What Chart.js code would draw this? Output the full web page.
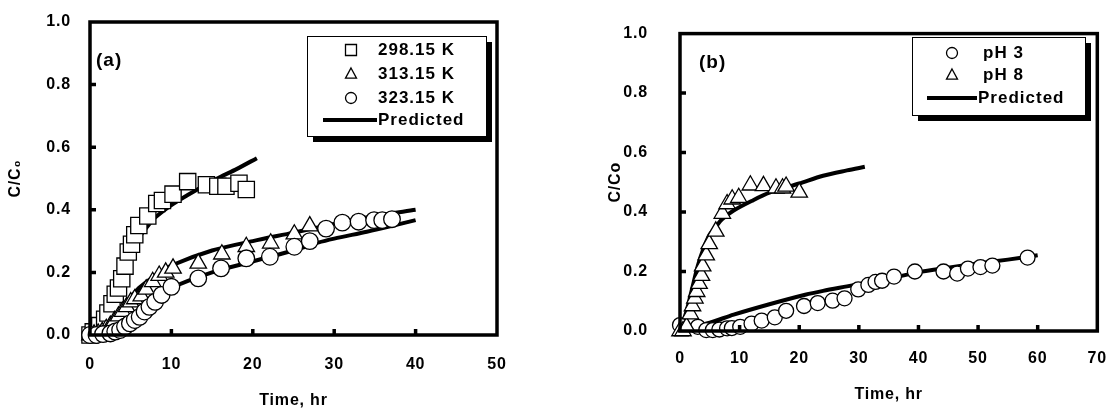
<!DOCTYPE html>
<html>
<head>
<meta charset="utf-8">
<script src="https://cdn.jsdelivr.net/npm/chart.js@4.4.0/dist/chart.umd.min.js"></script>
<style>
  html, body { margin: 0; padding: 0; background: #fff; }
  #wrap { position: relative; width: 1117px; height: 410px; }
  canvas { position: absolute; top: 0; }
  #chartA { left: 0; }
  #chartB { left: 560px; }
</style>
</head>
<body>
<div id="wrap">
  <canvas id="chartA" width="560" height="410"></canvas>
  <canvas id="chartB" width="557" height="410"></canvas>
</div>
<script>
// ---- panel (a): temperature ----
const tempLabels = ["298.15 K", "313.15 K", "323.15 K"];

const t298 = [0, 0.4, 1.2, 1.8, 2.2, 2.7, 3.1, 3.5, 3.9, 4.3, 4.7, 5.1, 5.5, 6.0, 7.1, 8.2, 8.9, 10.2, 12.0, 14.3, 15.7, 16.7, 18.3, 19.2];
const c298 = [0, 0.01, 0.03, 0.05, 0.07, 0.10, 0.13, 0.15, 0.18, 0.22, 0.265, 0.29, 0.32, 0.35, 0.38, 0.42, 0.43, 0.45, 0.49, 0.48, 0.475, 0.475, 0.485, 0.465];

const t313 = [0, 0.5, 1, 1.5, 2, 2.5, 3, 3.5, 4, 4.5, 5, 5.5, 6.3, 6.9, 7.7, 8.5, 9.3, 10.2, 13.3, 16.2, 19.2, 22.2, 25.1, 27.0];
const c313 = [0, 0.002, 0.005, 0.01, 0.02, 0.03, 0.045, 0.06, 0.075, 0.09, 0.105, 0.115, 0.124, 0.146, 0.17, 0.19, 0.2, 0.213, 0.229, 0.258, 0.282, 0.293, 0.322, 0.348];

const t323 = [0, 0.8, 1.6, 2.5, 3.1, 3.7, 4.3, 4.9, 5.5, 6.1, 6.7, 7.3, 8.0, 8.8, 10.0, 13.3, 16.1, 19.2, 22.1, 25.1, 27.0, 29.0, 31.0, 33.0, 34.9, 35.9, 37.1];
const c323 = [0, 0, 0.003, 0.005, 0.011, 0.016, 0.027, 0.037, 0.048, 0.058, 0.075, 0.09, 0.106, 0.128, 0.154, 0.181, 0.213, 0.245, 0.25, 0.282, 0.30, 0.34, 0.359, 0.362, 0.367, 0.367, 0.37];

// predicted curves
const pt298 = [0, 1, 2, 3, 4, 5, 6, 7, 8, 10, 12, 14, 16, 18, 20.5];
const pc298 = [0, 0.04, 0.09, 0.15, 0.21, 0.265, 0.31, 0.345, 0.375, 0.415, 0.447, 0.477, 0.505, 0.53, 0.565];
const pt313 = [0, 2, 3, 4, 5, 6, 8, 10, 15, 20, 25, 30, 35, 40];
const pc313 = [0, 0.01, 0.04, 0.08, 0.12, 0.15, 0.19, 0.222, 0.27, 0.30, 0.327, 0.355, 0.38, 0.40];
const pt323 = [0, 2, 4, 6, 8, 10, 15, 20, 25, 28, 30, 34, 37, 40];
const pc323 = [0, 0.005, 0.03, 0.07, 0.11, 0.15, 0.2, 0.235, 0.27, 0.295, 0.308, 0.33, 0.348, 0.367];

// ---- panel (b): pH ----
const phLabels = ["pH 3", "pH 8"];

const tPh3 = [0, 3.0, 4.4, 5.5, 6.6, 7.9, 8.7, 10.1, 12.0, 13.7, 15.9, 17.8, 20.8, 23.1, 25.6, 27.6, 29.9, 31.6, 32.8, 33.9, 35.9, 39.4, 44.2, 46.5, 48.3, 50.4, 52.4, 58.3];
const cPh3 = [0.02, 0.014, 0.003, 0.003, 0.005, 0.009, 0.01, 0.014, 0.025, 0.035, 0.046, 0.068, 0.084, 0.094, 0.102, 0.11, 0.14, 0.155, 0.165, 0.169, 0.183, 0.2, 0.2, 0.193, 0.21, 0.215, 0.22, 0.247];

const tPh8 = [0, 0.5, 1.1, 1.75, 2.1, 2.5, 2.8, 3.2, 3.6, 3.8, 4.4, 4.9, 6.0, 7.1, 7.9, 8.75, 9.85, 11.8, 14.0, 16.1, 17.2, 17.8, 20.0];
const cPh8 = [0, 0, 0.014, 0.057, 0.084, 0.11, 0.132, 0.159, 0.186, 0.218, 0.255, 0.293, 0.335, 0.395, 0.427, 0.443, 0.448, 0.49, 0.488, 0.48, 0.48, 0.486, 0.466];

const ptPh3 = [2, 5, 9, 15, 21, 24, 28, 32, 36, 40, 45, 50, 55, 60];
const pcPh3 = [0.015, 0.028, 0.055, 0.09, 0.122, 0.135, 0.15, 0.165, 0.18, 0.198, 0.213, 0.227, 0.24, 0.255];
const ptPh8 = [0, 1, 2, 3, 4, 5, 6, 7, 9, 12, 15, 20, 24, 28, 31];
const pcPh8 = [0, 0.06, 0.14, 0.22, 0.28, 0.325, 0.35, 0.375, 0.405, 0.437, 0.465, 0.496, 0.522, 0.54, 0.552];

const FONT = "'Liberation Sans', Arial, sans-serif";
const pts = (xs, ys) => xs.map((x, i) => ({ x: x, y: ys[i] }));

function markerSet(label, data, style, r, order) {
  return {
    label: label, data: data, showLine: false, order: order, clip: false,
    pointStyle: style, pointRadius: r, pointHoverRadius: r,
    pointBackgroundColor: "#fff", pointBorderColor: "#000", pointBorderWidth: 1.3
  };
}
function predSet(data) {
  return {
    label: "Predicted", data: data, showLine: true, order: 10, clip: false,
    borderColor: "#000", borderWidth: 4, pointRadius: 0, tension: 0.3, fill: false
  };
}

function drawMarker(ctx, style, x, y, r) {
  ctx.beginPath();
  if (style === "rect") {
    ctx.rect(x - r, y - r, 2 * r, 2 * r);
  } else if (style === "triangle") {
    ctx.moveTo(x, y - r * 1.1);
    ctx.lineTo(x + r, y + r * 0.75);
    ctx.lineTo(x - r, y + r * 0.75);
    ctx.closePath();
  } else {
    ctx.arc(x, y, r, 0, Math.PI * 2);
  }
  ctx.fillStyle = "#fff";
  ctx.fill();
  ctx.lineWidth = 1.3;
  ctx.strokeStyle = "#000";
  ctx.stroke();
}

function spacing(chart) {
  chart.ctx.letterSpacing = "0.8px";
}

// box around plot, inward ticks, panel tag and shadowed legend
const decor = {
  id: "decor",
  beforeLayout: spacing,
  beforeDraw: spacing,
  afterDatasetsDraw(chart) {
    const ctx = chart.ctx;
    const a = chart.chartArea;
    const xs = chart.scales.x, ys = chart.scales.y;
    ctx.save();
    ctx.strokeStyle = "#000";
    ctx.lineWidth = 3.5;
    ctx.strokeRect(a.left, a.top, a.right - a.left, a.bottom - a.top);
    ctx.beginPath();
    xs.ticks.forEach(t => {
      if (t.value <= xs.min || t.value >= xs.max) return;
      const px = xs.getPixelForValue(t.value);
      ctx.moveTo(px, a.bottom);
      ctx.lineTo(px, a.bottom - 6);
    });
    ys.ticks.forEach(t => {
      if (t.value <= ys.min || t.value >= ys.max) return;
      const py = ys.getPixelForValue(t.value);
      ctx.moveTo(a.left, py);
      ctx.lineTo(a.left + 6, py);
    });
    ctx.stroke();
    ctx.restore();
  },
  afterDraw(chart, args, opts) {
    const ctx = chart.ctx;
    const L = opts.legend;
    ctx.save();
    ctx.letterSpacing = "1px";
    ctx.fillStyle = "#000";
    ctx.font = "bold 19px " + FONT;
    ctx.textBaseline = "middle";
    ctx.fillText(opts.tag, opts.tagX, opts.tagY);

    // legend shadow + box
    ctx.fillRect(L.x + 6, L.y + 6, L.w, L.h);
    ctx.fillStyle = "#fff";
    ctx.fillRect(L.x, L.y, L.w, L.h);
    ctx.strokeStyle = "#000";
    ctx.lineWidth = 1;
    ctx.strokeRect(L.x + 0.5, L.y + 0.5, L.w, L.h);

    const entries = [];
    chart.data.datasets.forEach(ds => {
      if (ds.showLine) {
        if (!entries.some(e => e.line)) entries.push({ line: true, label: ds.label });
      } else {
        entries.push({ line: false, label: ds.label, style: ds.pointStyle });
      }
    });
    ctx.font = "bold 17px " + FONT;
    ctx.letterSpacing = "1px";
    entries.forEach((e, i) => {
      const y = L.rowY[i];
      if (e.line) {
        ctx.beginPath();
        ctx.lineWidth = 4;
        ctx.strokeStyle = "#000";
        ctx.moveTo(L.lineX0, y);
        ctx.lineTo(L.lineX1, y);
        ctx.stroke();
        ctx.fillStyle = "#000";
        ctx.fillText(e.label, L.lineX1 + 1, y);
      } else {
        drawMarker(ctx, e.style, L.markX, y, 5.5);
        ctx.fillStyle = "#000";
        ctx.fillText(e.label, L.textX, y);
      }
    });
    ctx.restore();
  }
};

function axes(xMax, yTitle, yPad, yWidth, xHeight, xPad, titlePadBottom) {
  return {
    x: {
      type: "linear", min: 0, max: xMax,
      grid: { display: false },
      border: { display: false },
      ticks: { stepSize: 10, padding: xPad, color: "#000", font: { family: FONT, size: 16, weight: "bold" } },
      title: { display: true, text: "Time, hr", color: "#000", padding: { top: 0, bottom: titlePadBottom },
               font: { family: FONT, size: 16, weight: "bold" } },
      afterFit: s => { s.height = xHeight; }
    },
    y: {
      type: "linear", min: 0, max: 1,
      grid: { display: false },
      border: { display: false },
      ticks: { stepSize: 0.2, padding: yPad, color: "#000", callback: v => v.toFixed(1),
               font: { family: FONT, size: 16, weight: "bold" } },
      title: { display: true, text: yTitle, color: "#000", padding: 6,
               font: { family: FONT, size: 16, weight: "bold" } },
      afterFit: s => { s.width = yWidth; }
    }
  };
}

const common = {
  responsive: false,
  animation: false,
  events: [],
  plugins: { legend: { display: false }, tooltip: { enabled: false } }
};

new Chart(document.getElementById("chartA"), {
  type: "scatter",
  data: {
    datasets: [
      markerSet(tempLabels[0], pts(t298, c298), "rect", 11.5, 3),
      markerSet(tempLabels[1], pts(t313, c313), "triangle", 9.5, 2),
      markerSet(tempLabels[2], pts(t323, c323), "circle", 8.3, 1),
      predSet(pts(pt298, pc298)),
      predSet(pts(pt313, pc313)),
      predSet(pts(pt323, pc323))
    ]
  },
  options: Object.assign({}, common, {
    layout: { padding: { left: 0, top: 22, right: 63, bottom: 0 } },
    scales: axes(50, "C/C\u2080", 11, 90, 75, 12, 0),
    plugins: Object.assign({}, common.plugins, {
      decor: {
        tag: "(a)", tagX: 96, tagY: 61,
        legend: { x: 307, y: 36, w: 179, h: 100, markX: 351, textX: 378,
                  lineX0: 323, lineX1: 377, rowY: [50, 74, 98, 120] }
      }
    })
  }),
  plugins: [decor]
});

new Chart(document.getElementById("chartB"), {
  type: "scatter",
  data: {
    datasets: [
      markerSet(phLabels[0], pts(tPh3, cPh3), "circle", 7.5, 2),
      markerSet(phLabels[1], pts(tPh8, cPh8), "triangle", 9.5, 1),
      predSet(pts(ptPh3, pcPh3)),
      predSet(pts(ptPh8, pcPh8))
    ]
  },
  options: Object.assign({}, common, {
    layout: { padding: { left: 40, top: 20, right: 12, bottom: 0 } },
    scales: axes(70, "C/Co", 24, 80, 79, 10, 6),
    plugins: Object.assign({}, common.plugins, {
      decor: {
        tag: "(b)", tagX: 139, tagY: 63,
        legend: { x: 352, y: 37, w: 173, h: 78, markX: 392, textX: 423,
                  lineX0: 367, lineX1: 417, rowY: [53, 75, 98] }
      }
    })
  }),
  plugins: [decor]
});
</script>
</body>
</html>
